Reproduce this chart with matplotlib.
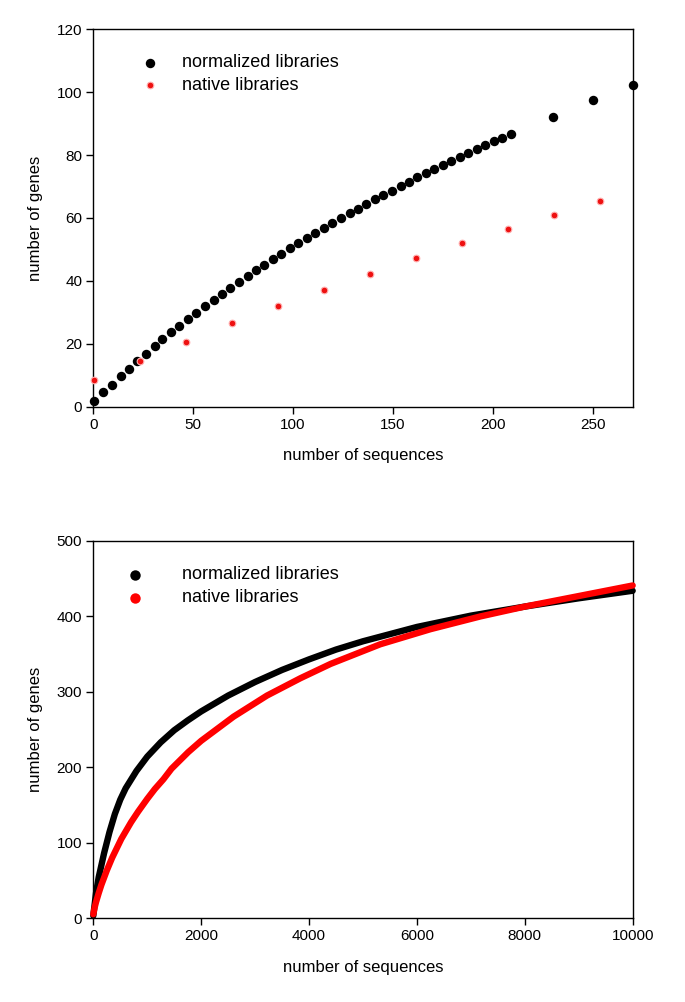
import matplotlib
matplotlib.use("Agg")
import matplotlib.pyplot as plt

plt.rcParams['font.family'] = ['Liberation Sans', 'DejaVu Sans']

# ---- top panel data ----
norm_x = [0.35, 5.0, 9.2, 13.7, 17.7, 22.0, 26.2, 30.8, 34.6, 38.9, 43.1, 47.6, 51.6,
          56.1, 60.3, 64.6, 68.6, 73.1, 77.2, 81.5, 85.7, 90.0, 94.2, 98.7, 102.7,
          107.2, 111.2, 115.6, 119.7, 124.2, 128.3, 132.6, 136.6, 141.1, 145.1, 149.6,
          153.8, 158.2, 162.2, 166.7, 170.7, 175.2, 179.2, 183.6, 187.7, 192.1, 196.1,
          200.8, 204.8, 209.1, 230, 250, 270]
norm_y = [1.8, 4.7, 7.0, 9.7, 12.1, 14.6, 16.9, 19.2, 21.4, 23.7, 25.8, 27.9, 29.9,
          32.0, 33.9, 35.9, 37.8, 39.7, 41.6, 43.4, 45.1, 46.9, 48.6, 50.4, 52.0,
          53.6, 55.2, 56.8, 58.4, 60.0, 61.5, 63.0, 64.5, 65.9, 67.3, 68.7,
          70.2, 71.5, 72.9, 74.3, 75.5, 77.0, 78.1, 79.5, 80.7, 82.0, 83.2,
          84.5, 85.5, 86.8, 92.2, 97.4, 102.4]
nat_x = [0.35, 23.5, 46.6, 69.6, 92.5, 115.6, 138.5, 161.7, 184.7, 207.8, 230.7, 253.7]
nat_y = [8.4, 14.6, 20.7, 26.5, 31.9, 37.2, 42.3, 47.3, 52.0, 56.5, 61.0, 65.3]

# ---- bottom panel data ----
curve_norm_x = [0, 50, 100, 200, 300, 400, 500, 600, 800, 1000, 1250, 1500, 1750,
                2000, 2500, 3000, 3500, 4000, 4500, 5000, 6000, 7000, 8000, 9000, 10000]
curve_norm_y = [3, 33, 54, 86, 114, 138, 157, 172, 195, 214, 233, 249, 262,
                274, 295, 313, 329, 343, 356, 367, 386, 401, 413, 424, 434]
curve_nat_x = [0, 25, 50, 100, 150, 250, 350, 520, 700, 830, 1000, 1140, 1300, 1450,
               1760, 2000, 2600, 3220, 3840, 4400, 5320, 6250, 7180, 8000, 9000, 10000]
curve_nat_y = [5, 14, 21, 33, 44, 63, 80, 105, 127, 141, 158, 171, 184, 198,
               220, 235, 267, 295, 318, 337, 363, 383, 400, 413, 427, 441]

labels = ["normalized libraries", "native libraries"]
RED = '#ee1111'

fig = plt.figure(figsize=(6.85, 10.02), dpi=100)
ax1 = fig.add_axes([0.1362, 0.5941, 0.7874, 0.3767])
ax2 = fig.add_axes([0.1362, 0.0838, 0.7874, 0.3763])

def style(ax):
    for s in ax.spines.values():
        s.set_linewidth(1.0)
        s.set_color('black')
    ax.tick_params(direction='out', length=5, width=1, labelsize=11, pad=3,
                   top=False, right=False)
    ax.set_xlabel("number of sequences", fontsize=12, labelpad=12)
    ax.set_ylabel("number of genes", fontsize=12, labelpad=10)

# top
ax1.plot(norm_x, norm_y, 'o', color='black', markersize=6.8, markeredgewidth=0,
         clip_on=False, zorder=3)
ax1.plot(nat_x, nat_y, 'o', color=RED, markersize=4.8, markeredgecolor='#ffb0b0',
         markeredgewidth=0.8, clip_on=False, zorder=4)
ax1.set_xlim(0, 270)
ax1.set_ylim(0, 120)
ax1.set_xticks([0, 50, 100, 150, 200, 250])
ax1.set_yticks([0, 20, 40, 60, 80, 100, 120])
style(ax1)
ax1.plot([0.105], [0.9115], 'o', color='black', markersize=6.8, markeredgewidth=0,
         transform=ax1.transAxes)
ax1.plot([0.105], [0.852], 'o', color=RED, markersize=4.8, markeredgecolor='#ffb0b0',
         markeredgewidth=0.8, transform=ax1.transAxes)
ax1.text(0.164, 0.9115, labels[0], transform=ax1.transAxes, fontsize=13, va='center')
ax1.text(0.164, 0.852, labels[1], transform=ax1.transAxes, fontsize=13, va='center')

# bottom
ax2.plot(curve_norm_x, curve_norm_y, '-', color='black', linewidth=4.6,
         solid_capstyle='round', solid_joinstyle='round', clip_on=False, zorder=3)
ax2.plot(curve_nat_x, curve_nat_y, '-', color='#ff0000', linewidth=4.6,
         solid_capstyle='round', solid_joinstyle='round', clip_on=False, zorder=4)
ax2.set_xlim(0, 10000)
ax2.set_ylim(0, 500)
ax2.set_xticks([0, 2000, 4000, 6000, 8000, 10000])
ax2.set_yticks([0, 100, 200, 300, 400, 500])
style(ax2)
ax2.plot([0.0773], [0.910], 'o', color='black', markersize=7.5, markeredgewidth=0,
         transform=ax2.transAxes)
ax2.plot([0.0773], [0.849], 'o', color='#ff0000', markersize=7.5, markeredgewidth=0,
         transform=ax2.transAxes)
ax2.text(0.164, 0.910, labels[0], transform=ax2.transAxes, fontsize=13, va='center')
ax2.text(0.164, 0.849, labels[1], transform=ax2.transAxes, fontsize=13, va='center')

fig.savefig("out.png", dpi=100)
